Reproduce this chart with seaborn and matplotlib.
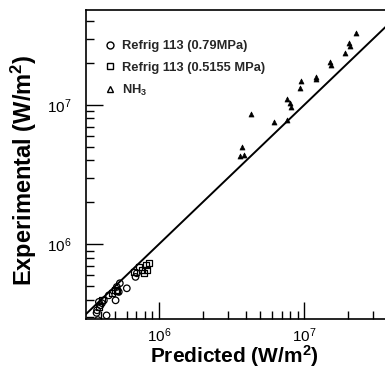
import numpy as np
import pandas as pd
import seaborn as sns
import matplotlib.pyplot as plt
from matplotlib.lines import Line2D

sns.set_theme(style="ticks")
plt.rcParams["font.family"] = ["Liberation Sans", "DejaVu Sans"]
plt.rcParams["mathtext.fontset"] = "custom"
plt.rcParams["mathtext.rm"] = "Liberation Sans"
plt.rcParams["mathtext.bf"] = "Liberation Sans:bold"

# Refrig 113 (0.79 MPa) - open circles
r113a_pred = [3.72e5, 3.86e5, 3.96e5, 4.05e5, 3.75e5, 4.36e5, 3.80e5, 4.52e5, 5.03e5,
              5.13e5, 5.38e5, 5.29e5, 6.01e5, 6.90e5, 7.05e5, 4.18e5]
r113a_exp = [3.21e5, 3.85e5, 3.64e5, 3.77e5, 3.35e5, 3.08e5, 2.85e5, 4.29e5, 3.95e5,
             4.93e5, 5.24e5, 4.54e5, 4.82e5, 5.82e5, 6.18e5, 3.95e5]

# Refrig 113 (0.5155 MPa) - open squares
r113b_pred = [3.86e5, 4.05e5, 4.74e5, 5.03e5, 6.72e5, 7.28e5, 7.63e5, 7.88e5, 8.10e5,
              8.30e5, 8.50e5, 5.13e5]
r113b_exp = [3.54e5, 3.95e5, 4.44e5, 4.67e5, 6.32e5, 6.87e5, 6.50e5, 6.18e5, 7.06e5,
             6.50e5, 7.30e5, 4.60e5]

# NH3 - filled triangles
nh3_pred = [3.72e6, 3.62e6, 3.85e6, 4.3e6, 6.2e6, 7.6e6, 7.6e6, 8.0e6, 8.1e6, 9.4e6,
            9.5e6, 1.21e7, 1.21e7, 1.51e7, 1.53e7, 1.92e7, 2.04e7, 2.08e7, 2.29e7]
nh3_exp = [5.0e6, 4.3e6, 4.4e6, 8.6e6, 7.5e6, 7.8e6, 1.1e7, 1.03e7, 9.7e6, 1.33e7,
           1.49e7, 1.59e7, 1.54e7, 2.04e7, 1.94e7, 2.37e7, 2.79e7, 2.66e7, 3.3e7]

fit_line = [1e5, 1e8]

fig = plt.figure(figsize=(3.85, 3.74), dpi=100)
ax = fig.add_axes([0.223, 0.147, 0.777, 0.826])

sns.lineplot(x=fit_line, y=fit_line, color="black", lw=1.4, ax=ax)
sns.scatterplot(x=r113a_pred, y=r113a_exp, marker="o", s=22, facecolor="none",
                edgecolor="black", linewidth=0.9, ax=ax)
sns.scatterplot(x=r113b_pred, y=r113b_exp, marker="s", s=20, facecolor="none",
                edgecolor="black", linewidth=0.9, ax=ax)
sns.scatterplot(x=nh3_pred, y=nh3_exp, marker="^", s=13, color="black",
                edgecolor="black", linewidth=0.5, ax=ax)

ax.set(xscale="log", yscale="log")
ax.set_xlim(3.14e5, 3.6e7)
ax.set_ylim(2.9e5, 4.8e7)

ax.tick_params(which="major", direction="in", length=12, width=1, labelsize=11,
               color="black", labelcolor="black")
ax.tick_params(axis="x", which="major", pad=5)
ax.tick_params(axis="y", which="major", pad=10)
ax.tick_params(which="minor", direction="in", length=6, width=1, color="black")
for side in ["left", "bottom", "top"]:
    ax.spines[side].set_color("black")
    ax.spines[side].set_linewidth(1.2)
ax.spines["right"].set_visible(False)

ax.set_xlabel(r"Predicted (W/m$\mathbf{^2}$)", fontsize=15, fontweight="bold",
              color="black")
ax.set_ylabel(r"Experimental (W/m$\mathbf{^2}$)", fontsize=17, fontweight="bold",
              color="black")
ax.xaxis.set_label_coords(0.495, -0.077)
ax.yaxis.set_label_coords(-0.155, 0.482)

handles = [
    Line2D([], [], marker="o", ls="none", mfc="none", mec="black", ms=5, label="Refrig 113 (0.79MPa)"),
    Line2D([], [], marker="s", ls="none", mfc="none", mec="black", ms=4.5, label="Refrig 113 (0.5155 MPa)"),
    Line2D([], [], marker="^", ls="none", mfc="none", mec="black", ms=5, label=r"NH$\mathbf{_3}$"),
]
ax.legend(handles=handles, loc="upper left", frameon=False,
          prop={"size": 9.3, "weight": "bold"}, handletextpad=0.35,
          bbox_to_anchor=(0.015, 0.94), labelspacing=0.72, handlelength=1.2)

fig.savefig("out.png", dpi=100)
